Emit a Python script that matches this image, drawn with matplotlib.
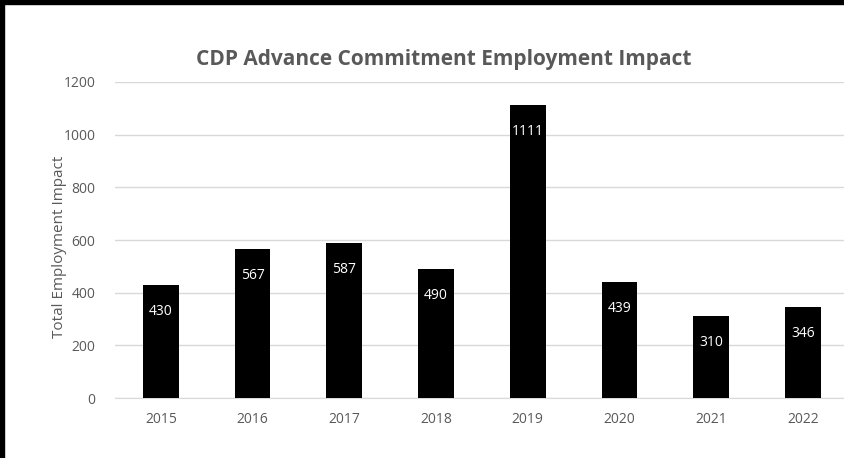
import matplotlib.pyplot as plt
from matplotlib.patches import Rectangle

years = ['2015', '2016', '2017', '2018', '2019', '2020', '2021', '2022']
impact = [430, 567, 587, 490, 1111, 439, 310, 346]

GRAY = '#595959'
W, H = 845, 458

fig = plt.figure(figsize=(W / 100, H / 100), dpi=100)
ax = fig.add_axes([115 / W, 1 - 398 / H, (845 - 115) / W, 316 / H])

x = range(len(years))
bars = ax.bar(x, impact, width=0.39, color='black', zorder=3)
for b, v in zip(bars, impact):
    ax.annotate(str(v), (b.get_x() + b.get_width() / 2, v), xytext=(0, -19),
                textcoords='offset points', ha='center', va='center',
                color='white', fontsize=10, family='Open Sans')

ax.set_xlim(-0.5, 7.46)
ax.set_ylim(0, 1200)
ax.set_yticks(range(0, 1201, 200))
ax.set_xticks(list(x))
ax.set_xticklabels(years)
ax.grid(axis='y', color='#d9d9d9', linewidth=1, zorder=0)
for s in ['top', 'right', 'left']:
    ax.spines[s].set_visible(False)
ax.spines['bottom'].set_color('#d9d9d9')
ax.tick_params(length=0, colors=GRAY, labelsize=10, pad=10)
ax.tick_params(axis='y', pad=14)
for lab in ax.get_xticklabels() + ax.get_yticklabels():
    lab.set_family('Open Sans')

ax.set_ylabel('Total Employment Impact', color=GRAY, fontsize=11, family='Open Sans')
ax.yaxis.set_label_coords((67 - 115) / 730, 0.48)
fig.text(444 / W, 1 - 60 / H, 'CDP Advance Commitment Employment Impact', ha='center', va='center',
         color=GRAY, fontsize=15, fontweight='bold', family='Open Sans')

# black frame on the top and left edges
fig.patches.append(Rectangle((0, 1 - 4 / H), 1, 4 / H, transform=fig.transFigure, color='black'))
fig.patches.append(Rectangle((0, 0), 4 / W, 1, transform=fig.transFigure, color='black'))

fig.savefig('out.png', dpi=100)
